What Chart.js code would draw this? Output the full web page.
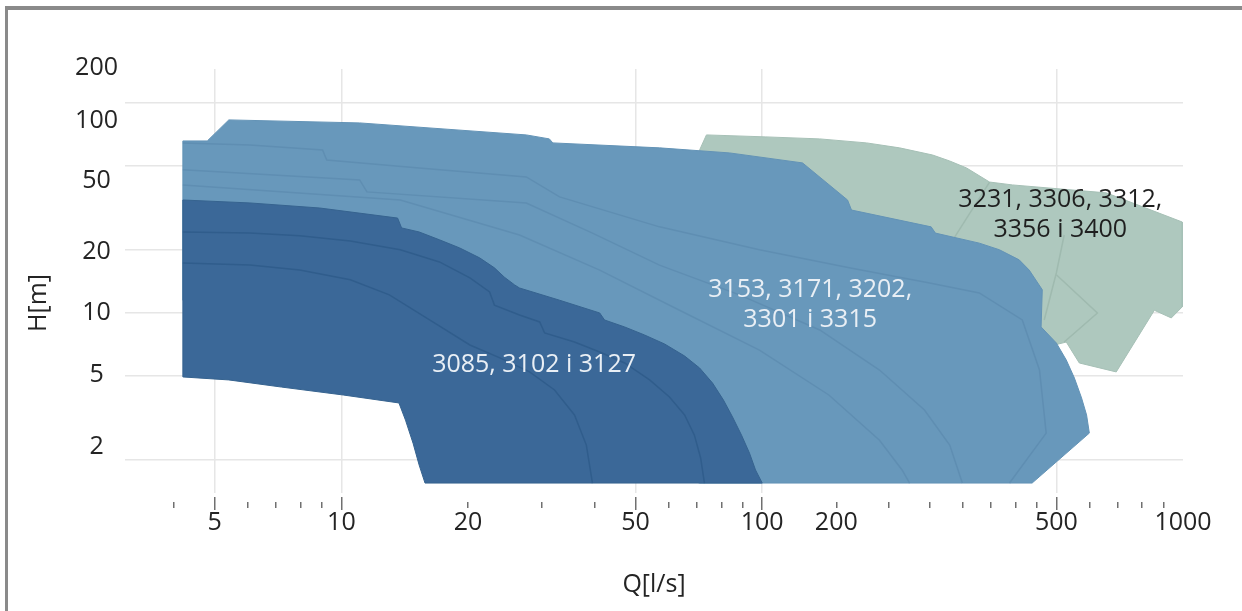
<!DOCTYPE html>
<html>
<head>
<meta charset="utf-8">
<title>Q-H range chart</title>
<script src="https://cdn.jsdelivr.net/npm/chart.js@4.4.1/dist/chart.umd.min.js"></script>
<style>
  html, body { margin: 0; padding: 0; background: #fff; }
  #wrap { position: relative; width: 1242px; height: 611px; overflow: hidden; }
  #chartCanvas { position: absolute; left: 0; top: 0; }
  #frame {
    position: absolute; left: 5px; top: 6px; width: 1237px; height: 605px;
    border-left: 3px solid #8a8a8a; border-top: 4px solid #8a8a8a;
    box-sizing: border-box; pointer-events: none;
  }
</style>
</head>
<body>
<div id="wrap">
  <canvas id="chartCanvas" width="1242" height="611"></canvas>
  <div id="frame"></div>
</div>
<script>
// Axis ranges (Q in l/s, H in m)
const qMin = 3.06, qMax = 1000;
const hMin = 1.39, hMax = 145;

// X axis ticks as printed on the picture (the "200" label sits at the 150 position)
const xTickValues = [5, 10, 20, 50, 100, 150, 500, 1000];
const xTickLabels = ['5', '10', '20', '50', '100', '200', '500', '1000'];
const xGridValues = [5, 10, 50, 100, 500];
const xMinorTicks = [4, 6, 7, 8, 9, 20, 30, 40, 60, 70, 80, 90, 150, 200, 250, 300, 350, 400, 450, 600, 700, 800, 900];

// Y axis: grid lines and the (slightly offset) printed labels
const yGridValues = [2, 5, 10, 20, 50, 100];
const yLabelValues = [146, 82, 42.5, 19.5, 10, 5.1, 2.3];
const yTickLabels = ['200', '100', '50', '20', '10', '5', '2'];

// Range 3085 / 3102 / 3127 : outline and inner curves, [Q, H]
const regionA = [[4.2, 34.5], [6.06, 33.4], [8.88, 31.6], [13.6, 28.3], [13.9, 25.4], [15.3, 24.3], [17.1, 22.3],
    [19.1, 20.4], [21.3, 18.3], [23.1, 16.4], [24.4, 14.8], [25.8, 13.6], [26.5, 13.15], [33, 11.5], [41.1, 10],
    [42.2, 9.26], [47.1, 8.58], [52.5, 7.86], [58.6, 7.12], [65.4, 6.24], [71, 5.47], [76.2, 4.64], [80.9, 3.85],
    [85, 3.2], [89.3, 2.62], [93.3, 2.15], [96.4, 1.79], [100, 1.55], [15.8, 1.55], [15.3, 1.89], [14.8, 2.4],
    [14.2, 3.09], [13.7, 3.73], [10.1, 4.07], [7.2, 4.44], [5.4, 4.8], [4.2, 4.96]];
const contourA1 = [[4.2, 24.3], [6.06, 24], [7.96, 23.3], [10.5, 22], [13.8, 20], [17.1, 17.5], [20.2, 14.7],
    [22.5, 12.6], [23.1, 10.9], [26.5, 9.78], [29.6, 9.06], [30.4, 8.03], [35.8, 7.27], [41.1, 6.52], [47.1, 5.78],
    [54, 4.8], [60.2, 3.98], [65.4, 3.27], [69, 2.62], [71.4, 2.04], [72.9, 1.55]];
const contourA2 = [[4.2, 17.3], [6.06, 16.9], [7.96, 16], [10.5, 14.4], [13, 12.2], [16.2, 9.26], [20.2, 7.04],
    [23.8, 6.11], [28, 5.24], [32.1, 4.3], [35.8, 3.27], [38.2, 2.35], [39.5, 1.55]];

// Range 3153 / 3171 / 3202 / 3301 / 3315
const regionB = [[4.2, 65.9], [4.8, 65.9], [5.4, 83], [11.05, 80.3], [27.5, 70.4], [31.2, 67.4], [31.8, 64.5],
    [57, 61.1], [83.6, 57.8], [124.7, 51.8], [159.5, 34.5], [163, 30.9], [252, 25.7], [258, 24], [328, 21.5],
    [366, 20], [408, 17.9], [431, 16], [463, 12.9], [460, 8.58], [500, 7.2], [528, 5.97], [552, 4.9], [574, 3.94],
    [590, 3.27], [599, 2.68], [438, 1.55], [71, 1.55], [4.2, 11.5]];
const contourB1 = [[4.2, 64.5], [6.06, 63.1], [9.02, 59.7], [9.23, 53.5], [15.3, 49], [27.5, 44.4], [33, 35.7],
    [57, 25.7], [98.5, 20], [161, 16.4], [250, 13.9], [328, 12.45], [415, 9.26], [456, 5.35], [473, 2.68], [387, 1.55]];
const contourB2 = [[4.2, 48], [11.05, 43], [11.5, 37.7], [27.5, 33.4], [39.5, 24], [57, 16.9], [88.3, 12.2],
    [137, 8.3], [190, 5.35], [243, 3.45], [279, 2.35], [299, 1.55]];
const contourB3 = [[4.2, 40.7], [13.8, 34.5], [26.5, 23.5], [41.1, 16], [63.6, 10.3], [98.5, 6.66], [144, 4.07],
    [190, 2.48], [215, 1.79], [224, 1.55]];

// Range 3231 / 3306 / 3312 / 3356 / 3400
const regionC = [[71, 59.7], [73.7, 70.4], [102, 68.9], [137, 67.4], [177, 64.5], [212, 61.1], [254, 56.5],
    [279, 52.9], [306, 49], [347, 42], [393, 40.7], [657, 37.3], [996, 27.1], [996, 10.7], [938, 9.47], [855, 10.3],
    [694, 5.24], [567, 5.78], [528, 7.27], [495, 7.04], [456, 7.44], [366, 11.5], [212, 17.9], [123, 34.5], [71, 48]];
const contourC1 = [[347, 42], [279, 21.1]];
const contourC2 = [[522, 23.5], [500, 15.5], [468, 9.26]];
const contourC3 = [[500, 15.2], [626, 10], [522, 7.27]];

// Range captions
const labelTexts = ['3085, 3102 i 3127', '3153, 3171, 3202,', '3301 i 3315', '3231, 3306, 3312,', '3356 i 3400'];
const labelQ = [28.7, 130, 130, 511, 511];
const labelH = [5.65, 12.9, 9.26, 34.5, 24.8];

const fontFamily = '"Open Sans", "Noto Sans", sans-serif';
const textColor = '#242424';
const gridColor = '#e6e6e6';

// Closed, filled outline of one pump range
function region(points, fillColor, edgeColor) {
    return {
        data: [...points, points[0]],
        fill: 'shape',
        backgroundColor: fillColor,
        borderColor: edgeColor,
        borderWidth: 1,
        pointRadius: 0,
        tension: 0
    };
}

// Thin inner curve separating the models of a range
function contour(points, color) {
    return {
        data: points,
        fill: false,
        borderColor: color,
        borderWidth: 1.5,
        pointRadius: 0,
        tension: 0
    };
}

// Captions and the vertical axis title
const textPlugin = {
    id: 'rangeText',
    afterDraw(chart) {
        const { ctx, scales } = chart;
        ctx.save();
        ctx.font = '25px ' + fontFamily;
        ctx.textAlign = 'center';
        ctx.textBaseline = 'middle';
        labelTexts.forEach((text, i) => {
            ctx.fillStyle = i < 3 ? '#e9eff5' : '#1f1f1f';
            ctx.fillText(text, scales.x.getPixelForValue(labelQ[i]), scales.y.getPixelForValue(labelH[i]));
        });
        ctx.fillStyle = textColor;
        ctx.translate(39, 303);
        ctx.rotate(-Math.PI / 2);
        ctx.fillText('H[m]', 0, 0);
        ctx.restore();
    }
};

const allXTicks = [...new Set([...xTickValues, ...xMinorTicks])].sort((a, b) => a - b);

const chart = new Chart(document.getElementById('chartCanvas'), {
    type: 'line',
    data: {
        datasets: [
            contour(contourA1, '#305d8c'),
            contour(contourA2, '#305d8c'),
            region(regionA, '#3b6898', '#36638f'),
            contour(contourB1, '#5f8eb2'),
            contour(contourB2, '#5f8eb2'),
            contour(contourB3, '#5f8eb2'),
            region(regionB, '#6898bb', '#6393b6'),
            contour(contourC1, '#9fbaaf'),
            contour(contourC2, '#9fbaaf'),
            contour(contourC3, '#9fbaaf'),
            region(regionC, '#aec8be', '#a6c0b6')
        ]
    },
    options: {
        responsive: false,
        animation: false,
        devicePixelRatio: 1,
        layout: { padding: { top: 69, right: 59, bottom: 0, left: 0 } },
        plugins: { legend: { display: false }, tooltip: { enabled: false } },
        scales: {
            x: {
                type: 'logarithmic',
                position: 'bottom',
                min: qMin,
                max: qMax,
                afterBuildTicks: (scale) => { scale.ticks = allXTicks.map(v => ({ value: v })); },
                afterFit: (scale) => { scale.height = 118; },
                border: { display: false },
                grid: {
                    color: (c) => (c.tick && xGridValues.includes(c.tick.value)) ? gridColor : 'rgba(0,0,0,0)',
                    lineWidth: 1.5,
                    drawTicks: true,
                    tickLength: 17,
                    tickColor: '#707070',
                    tickWidth: 1.5,
                    tickBorderDash: (c) => {
                        const v = c.tick ? c.tick.value : null;
                        if (xGridValues.includes(v)) return [0, 4, 13, 40];
                        if (xMinorTicks.includes(v)) return [0, 9, 6, 40];
                        return [0, 40];
                    }
                },
                ticks: {
                    autoSkip: false,
                    maxRotation: 0,
                    minRotation: 0,
                    padding: 0,
                    color: textColor,
                    font: { family: fontFamily, size: 25, lineHeight: 1 },
                    callback: (value) => {
                        const i = xTickValues.indexOf(value);
                        return i >= 0 ? xTickLabels[i] : '';
                    }
                },
                title: {
                    display: true,
                    text: 'Q[l/s]',
                    color: textColor,
                    font: { family: fontFamily, size: 25 },
                    padding: { top: 0, bottom: 11 }
                }
            },
            yl: {
                type: 'logarithmic',
                position: 'left',
                min: hMin,
                max: hMax,
                afterBuildTicks: (scale) => { scale.ticks = yLabelValues.map(v => ({ value: v })); },
                afterFit: (scale) => { scale.width = 125; },
                border: { display: false },
                grid: { display: false, drawTicks: false },
                ticks: {
                    autoSkip: false,
                    padding: 7,
                    crossAlign: 'center',
                    color: textColor,
                    font: { family: fontFamily, size: 25 },
                    callback: (value, index) => yTickLabels[index]
                }
            },
            y: {
                type: 'logarithmic',
                position: 'left',
                min: hMin,
                max: hMax,
                afterBuildTicks: (scale) => { scale.ticks = yGridValues.map(v => ({ value: v })); },
                border: { display: false },
                grid: { color: gridColor, lineWidth: 1.5, drawTicks: false },
                ticks: { display: false }
            }
        }
    },
    plugins: [textPlugin]
});
</script>
</body>
</html>
